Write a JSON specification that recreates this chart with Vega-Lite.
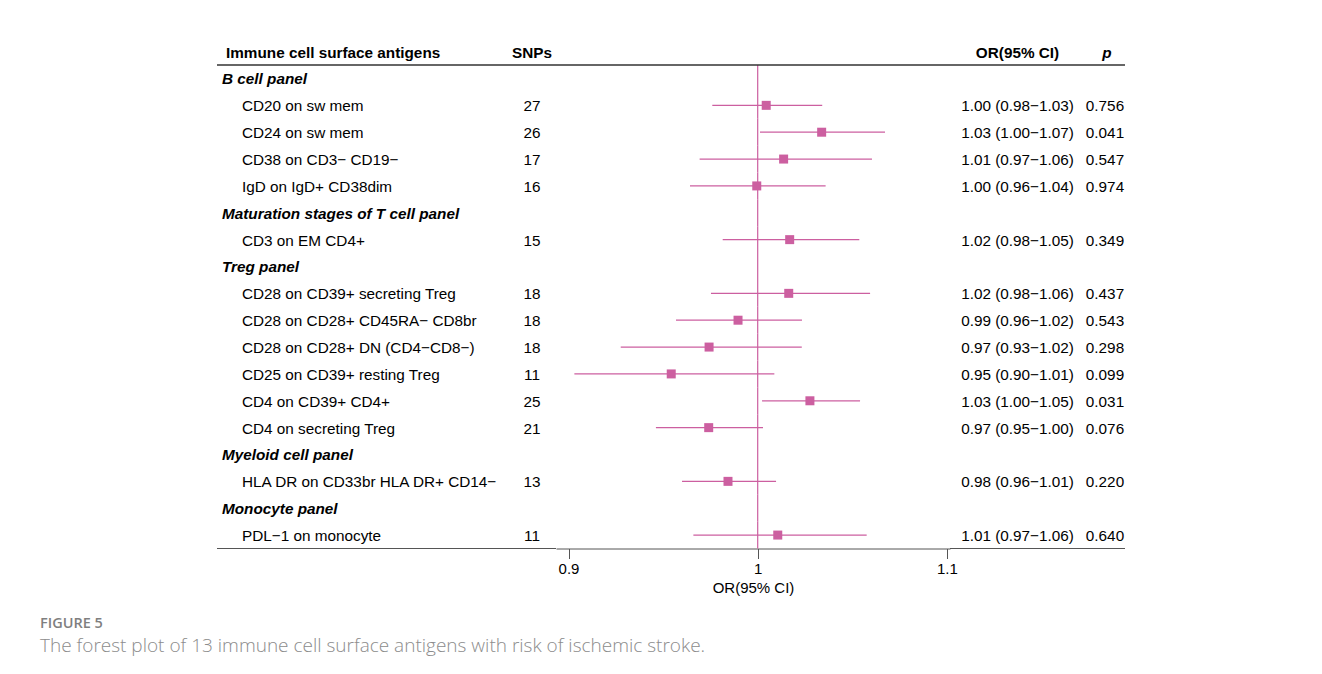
{
  "$schema": "https://vega.github.io/schema/vega-lite/v6.json",
  "autosize": {"type": "pad"},
  "padding": {"left": 40, "top": 38.2, "right": 0, "bottom": 0},
  "background": "white",
  "datasets": {
    "rows": [
      {"label": "Immune cell surface antigens", "kind": "header", "level": 0, "snps": "SNPs", "ci": "OR(95% CI)", "p": "p"},
      {"label": "B cell panel", "kind": "group", "level": 0},
      {"label": "CD20 on sw mem", "kind": "item", "level": 1, "snps": 27, "or": 1.0045, "lo": 0.9760, "hi": 1.0341, "ci": "1.00 (0.98−1.03)", "p": "0.756"},
      {"label": "CD24 on sw mem", "kind": "item", "level": 1, "snps": 26, "or": 1.0338, "lo": 1.0012, "hi": 1.0673, "ci": "1.03 (1.00−1.07)", "p": "0.041"},
      {"label": "CD38 on CD3− CD19−", "kind": "item", "level": 1, "snps": 17, "or": 1.0137, "lo": 0.9693, "hi": 1.0604, "ci": "1.01 (0.97−1.06)", "p": "0.547"},
      {"label": "IgD on IgD+ CD38dim", "kind": "item", "level": 1, "snps": 16, "or": 0.9995, "lo": 0.9642, "hi": 1.0359, "ci": "1.00 (0.96−1.04)", "p": "0.974"},
      {"label": "Maturation stages of T cell panel", "kind": "group", "level": 0},
      {"label": "CD3 on EM CD4+", "kind": "item", "level": 1, "snps": 15, "or": 1.0169, "lo": 0.9815, "hi": 1.0537, "ci": "1.02 (0.98−1.05)", "p": "0.349"},
      {"label": "Treg panel", "kind": "group", "level": 0},
      {"label": "CD28 on CD39+ secreting Treg", "kind": "item", "level": 1, "snps": 18, "or": 1.0164, "lo": 0.9753, "hi": 1.0594, "ci": "1.02 (0.98−1.06)", "p": "0.437"},
      {"label": "CD28 on CD28+ CD45RA− CD8br", "kind": "item", "level": 1, "snps": 18, "or": 0.9896, "lo": 0.9568, "hi": 1.0234, "ci": "0.99 (0.96−1.02)", "p": "0.543"},
      {"label": "CD28 on CD28+ DN (CD4−CD8−)", "kind": "item", "level": 1, "snps": 18, "or": 0.9743, "lo": 0.9276, "hi": 1.0233, "ci": "0.97 (0.93−1.02)", "p": "0.298"},
      {"label": "CD25 on CD39+ resting Treg", "kind": "item", "level": 1, "snps": 11, "or": 0.9543, "lo": 0.9031, "hi": 1.0088, "ci": "0.95 (0.90−1.01)", "p": "0.099"},
      {"label": "CD4 on CD39+ CD4+", "kind": "item", "level": 1, "snps": 25, "or": 1.0276, "lo": 1.0023, "hi": 1.0541, "ci": "1.03 (1.00−1.05)", "p": "0.031"},
      {"label": "CD4 on secreting Treg", "kind": "item", "level": 1, "snps": 21, "or": 0.9741, "lo": 0.9462, "hi": 1.0028, "ci": "0.97 (0.95−1.00)", "p": "0.076"},
      {"label": "Myeloid cell panel", "kind": "group", "level": 0},
      {"label": "HLA DR on CD33br HLA DR+ CD14−", "kind": "item", "level": 1, "snps": 13, "or": 0.9843, "lo": 0.9600, "hi": 1.0097, "ci": "0.98 (0.96−1.01)", "p": "0.220"},
      {"label": "Monocyte panel", "kind": "group", "level": 0},
      {"label": "PDL−1 on monocyte", "kind": "item", "level": 1, "snps": 11, "or": 1.0106, "lo": 0.9660, "hi": 1.0576, "ci": "1.01 (0.97−1.06)", "p": "0.640"}
    ]
  },
  "title": {
    "text": "FIGURE 5",
    "subtitle": "The forest plot of 13 immune cell surface antigens with risk of ischemic stroke.",
    "orient": "bottom",
    "anchor": "start",
    "frame": "group",
    "dx": -177,
    "offset": 21,
    "font": "Open Sans",
    "fontSize": 14.5,
    "fontWeight": 600,
    "color": "#7f7f7f",
    "subtitleFont": "Open Sans",
    "subtitleFontSize": 19,
    "subtitleFontWeight": 300,
    "subtitleColor": "#8c8c8c",
    "subtitlePadding": 6
  },
  "spacing": 0,
  "bounds": "flush",
  "hconcat": [
    {
      "width": 291,
      "height": 510.3,
      "encoding": {
        "y": {"field": "label", "type": "nominal", "axis": null,
              "scale": {"paddingInner": 0, "paddingOuter": 0,
                        "domain": ["Immune cell surface antigens", "B cell panel", "CD20 on sw mem", "CD24 on sw mem", "CD38 on CD3− CD19−", "IgD on IgD+ CD38dim", "Maturation stages of T cell panel", "CD3 on EM CD4+", "Treg panel", "CD28 on CD39+ secreting Treg", "CD28 on CD28+ CD45RA− CD8br", "CD28 on CD28+ DN (CD4−CD8−)", "CD25 on CD39+ resting Treg", "CD4 on CD39+ CD4+", "CD4 on secreting Treg", "Myeloid cell panel", "HLA DR on CD33br HLA DR+ CD14−", "Monocyte panel", "PDL−1 on monocyte"]}}
      },
      "layer": [
        {
          "data": {"name": "rows"},
          "transform": [{"filter": "datum.kind === 'header'"}],
          "mark": {"type": "text", "align": "left", "fontWeight": "bold", "dx": 4},
          "encoding": {
            "x": {"field": "level", "type": "quantitative", "axis": null, "scale": {"domain": [0, 1], "range": [5, 25]}},
            "text": {"field": "label"}
          }
        },
        {
          "data": {"name": "rows"},
          "transform": [{"filter": "datum.kind === 'group'"}],
          "mark": {"type": "text", "align": "left", "fontWeight": "bold", "fontStyle": "italic"},
          "encoding": {
            "x": {"field": "level", "type": "quantitative", "axis": null, "scale": {"domain": [0, 1], "range": [5, 25]}},
            "text": {"field": "label"}
          }
        },
        {
          "data": {"name": "rows"},
          "transform": [{"filter": "datum.kind === 'item'"}],
          "mark": {"type": "text", "align": "left"},
          "encoding": {
            "x": {"field": "level", "type": "quantitative", "axis": null, "scale": {"domain": [0, 1], "range": [5, 25]}},
            "text": {"field": "label"}
          }
        },
        {
          "data": {"name": "rows"},
          "transform": [{"filter": "datum.kind === 'header'"}],
          "mark": {"type": "rule", "color": "#333333", "strokeWidth": 1.5},
          "encoding": {"y": {"datum": "B cell panel", "type": "nominal", "bandPosition": 0}}
        },
        {
          "data": {"name": "rows"},
          "transform": [{"filter": "datum.kind === 'header'"}],
          "mark": {"type": "rule", "color": "#555555", "strokeWidth": 1},
          "encoding": {"y": {"datum": "PDL−1 on monocyte", "type": "nominal", "bandPosition": 1}}
        }
      ]
    },
    {
      "width": 48,
      "height": 510.3,
      "encoding": {
        "y": {"field": "label", "type": "nominal", "axis": null,
              "scale": {"paddingInner": 0, "paddingOuter": 0,
                        "domain": ["Immune cell surface antigens", "B cell panel", "CD20 on sw mem", "CD24 on sw mem", "CD38 on CD3− CD19−", "IgD on IgD+ CD38dim", "Maturation stages of T cell panel", "CD3 on EM CD4+", "Treg panel", "CD28 on CD39+ secreting Treg", "CD28 on CD28+ CD45RA− CD8br", "CD28 on CD28+ DN (CD4−CD8−)", "CD25 on CD39+ resting Treg", "CD4 on CD39+ CD4+", "CD4 on secreting Treg", "Myeloid cell panel", "HLA DR on CD33br HLA DR+ CD14−", "Monocyte panel", "PDL−1 on monocyte"]}}
      },
      "layer": [
        {
          "data": {"name": "rows"},
          "transform": [{"filter": "datum.kind === 'header'"}],
          "mark": {"type": "text", "align": "center", "fontWeight": "bold"},
          "encoding": {"text": {"field": "snps"}}
        },
        {
          "data": {"name": "rows"},
          "transform": [{"filter": "datum.kind === 'item'"}],
          "mark": {"type": "text", "align": "center"},
          "encoding": {"text": {"field": "snps"}}
        },
        {
          "data": {"name": "rows"},
          "transform": [{"filter": "datum.kind === 'header'"}],
          "mark": {"type": "rule", "color": "#333333", "strokeWidth": 1.5},
          "encoding": {"y": {"datum": "B cell panel", "type": "nominal", "bandPosition": 0}}
        },
        {
          "data": {"name": "rows"},
          "transform": [{"filter": "datum.kind === 'header'"}],
          "mark": {"type": "rule", "color": "#555555", "strokeWidth": 1},
          "encoding": {"y": {"datum": "PDL−1 on monocyte", "type": "nominal", "bandPosition": 1}}
        }
      ]
    },
    {
      "width": 394,
      "height": 510.3,
      "encoding": {
        "y": {"field": "label", "type": "nominal", "axis": null,
              "scale": {"paddingInner": 0, "paddingOuter": 0,
                        "domain": ["Immune cell surface antigens", "B cell panel", "CD20 on sw mem", "CD24 on sw mem", "CD38 on CD3− CD19−", "IgD on IgD+ CD38dim", "Maturation stages of T cell panel", "CD3 on EM CD4+", "Treg panel", "CD28 on CD39+ secreting Treg", "CD28 on CD28+ CD45RA− CD8br", "CD28 on CD28+ DN (CD4−CD8−)", "CD25 on CD39+ resting Treg", "CD4 on CD39+ CD4+", "CD4 on secreting Treg", "Myeloid cell panel", "HLA DR on CD33br HLA DR+ CD14−", "Monocyte panel", "PDL−1 on monocyte"]}}
      },
      "layer": [
        {
          "data": {"name": "rows"},
          "transform": [{"filter": "datum.kind !== 'header'"}],
          "mark": {"type": "bar", "fill": null, "stroke": "#cc5fa0", "strokeWidth": 1.2},
          "encoding": {
            "x": {"datum": 1, "type": "quantitative",
                  "scale": {"domain": [0.89339, 1.10164], "zero": false, "nice": false},
                  "axis": {"orient": "bottom", "values": [0.9, 1, 1.1], "format": "~g", "title": "OR(95% CI)", "grid": false,
                           "domainColor": "#555555", "tickColor": "#555555", "tickSize": 10, "domainWidth": 1, "tickWidth": 1,
                           "labelFont": "Liberation Sans", "labelFontSize": 15, "labelColor": "#000000", "labelPadding": 3,
                           "titleFont": "Liberation Sans", "titleFontSize": 15, "titleFontWeight": "normal", "titleColor": "#000000", "titlePadding": 4}},
            "x2": {"datum": 1}
          }
        },
        {
          "data": {"name": "rows"},
          "transform": [{"filter": "datum.kind === 'item'"}],
          "mark": {"type": "rule", "color": "#cc5fa0", "strokeWidth": 1.2},
          "encoding": {
            "x": {"field": "lo", "type": "quantitative"},
            "x2": {"field": "hi"}
          }
        },
        {
          "data": {"name": "rows"},
          "transform": [{"filter": "datum.kind === 'item'"}],
          "mark": {"type": "square", "size": 81, "color": "#cc5fa0", "filled": true, "opacity": 1},
          "encoding": {
            "x": {"field": "or", "type": "quantitative"}
          }
        },
        {
          "data": {"name": "rows"},
          "transform": [{"filter": "datum.kind === 'header'"}],
          "mark": {"type": "rule", "color": "#333333", "strokeWidth": 1.5},
          "encoding": {"y": {"datum": "B cell panel", "type": "nominal", "bandPosition": 0}}
        }
      ]
    },
    {
      "width": 135,
      "height": 510.3,
      "encoding": {
        "y": {"field": "label", "type": "nominal", "axis": null,
              "scale": {"paddingInner": 0, "paddingOuter": 0,
                        "domain": ["Immune cell surface antigens", "B cell panel", "CD20 on sw mem", "CD24 on sw mem", "CD38 on CD3− CD19−", "IgD on IgD+ CD38dim", "Maturation stages of T cell panel", "CD3 on EM CD4+", "Treg panel", "CD28 on CD39+ secreting Treg", "CD28 on CD28+ CD45RA− CD8br", "CD28 on CD28+ DN (CD4−CD8−)", "CD25 on CD39+ resting Treg", "CD4 on CD39+ CD4+", "CD4 on secreting Treg", "Myeloid cell panel", "HLA DR on CD33br HLA DR+ CD14−", "Monocyte panel", "PDL−1 on monocyte"]}}
      },
      "layer": [
        {
          "data": {"name": "rows"},
          "transform": [{"filter": "datum.kind === 'header'"}],
          "mark": {"type": "text", "align": "center", "fontWeight": "bold"},
          "encoding": {"text": {"field": "ci"}}
        },
        {
          "data": {"name": "rows"},
          "transform": [{"filter": "datum.kind === 'item'"}],
          "mark": {"type": "text", "align": "center"},
          "encoding": {"text": {"field": "ci"}}
        },
        {
          "data": {"name": "rows"},
          "transform": [{"filter": "datum.kind === 'header'"}],
          "mark": {"type": "rule", "color": "#333333", "strokeWidth": 1.5},
          "encoding": {"y": {"datum": "B cell panel", "type": "nominal", "bandPosition": 0}}
        },
        {
          "data": {"name": "rows"},
          "transform": [{"filter": "datum.kind === 'header'"}],
          "mark": {"type": "rule", "color": "#555555", "strokeWidth": 1},
          "encoding": {"y": {"datum": "PDL−1 on monocyte", "type": "nominal", "bandPosition": 1}}
        }
      ]
    },
    {
      "width": 40,
      "height": 510.3,
      "encoding": {
        "y": {"field": "label", "type": "nominal", "axis": null,
              "scale": {"paddingInner": 0, "paddingOuter": 0,
                        "domain": ["Immune cell surface antigens", "B cell panel", "CD20 on sw mem", "CD24 on sw mem", "CD38 on CD3− CD19−", "IgD on IgD+ CD38dim", "Maturation stages of T cell panel", "CD3 on EM CD4+", "Treg panel", "CD28 on CD39+ secreting Treg", "CD28 on CD28+ CD45RA− CD8br", "CD28 on CD28+ DN (CD4−CD8−)", "CD25 on CD39+ resting Treg", "CD4 on CD39+ CD4+", "CD4 on secreting Treg", "Myeloid cell panel", "HLA DR on CD33br HLA DR+ CD14−", "Monocyte panel", "PDL−1 on monocyte"]}}
      },
      "layer": [
        {
          "data": {"name": "rows"},
          "transform": [{"filter": "datum.kind === 'header'"}],
          "mark": {"type": "text", "align": "center", "fontWeight": "bold", "fontStyle": "italic", "dx": 2},
          "encoding": {"text": {"field": "p"}}
        },
        {
          "data": {"name": "rows"},
          "transform": [{"filter": "datum.kind === 'item'"}],
          "mark": {"type": "text", "align": "center"},
          "encoding": {"text": {"field": "p"}}
        },
        {
          "data": {"name": "rows"},
          "transform": [{"filter": "datum.kind === 'header'"}],
          "mark": {"type": "rule", "color": "#333333", "strokeWidth": 1.5},
          "encoding": {"y": {"datum": "B cell panel", "type": "nominal", "bandPosition": 0}}
        },
        {
          "data": {"name": "rows"},
          "transform": [{"filter": "datum.kind === 'header'"}],
          "mark": {"type": "rule", "color": "#555555", "strokeWidth": 1},
          "encoding": {"y": {"datum": "PDL−1 on monocyte", "type": "nominal", "bandPosition": 1}}
        }
      ]
    }
  ],
  "config": {
    "view": {"stroke": null},
    "text": {"font": "Liberation Sans", "fontSize": 15.3, "color": "#000000", "baseline": "middle", "dy": 1}
  }
}
